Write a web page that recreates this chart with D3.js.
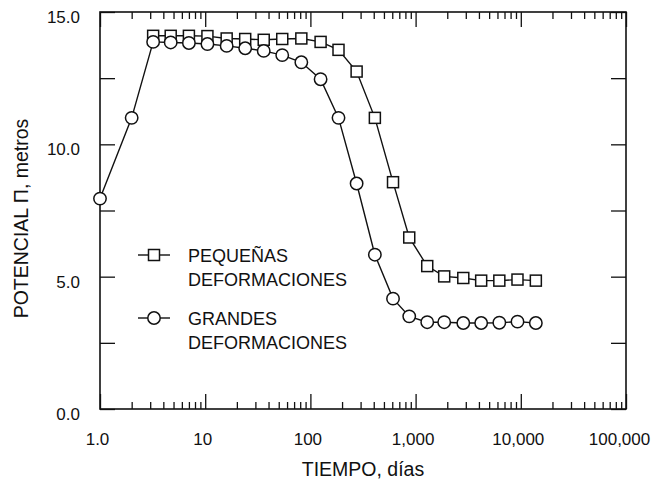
<!DOCTYPE html>
<html>
<head>
<meta charset="utf-8">
<script src="https://cdn.jsdelivr.net/npm/d3@7"></script>
<style>
  body { margin: 0; background: #fff; }
  svg text { font-family: "Liberation Sans", Arial, Helvetica, sans-serif; fill: #111; }
</style>
</head>
<body>
<div id="chart"></div>
<script>

// tiempo (dias) and potencial (metros)
const tiempoGrandes = [1, 2, 3.2, 4.7, 7, 10.5, 16, 24, 36, 54, 82, 125, 185, 275, 410, 610, 870, 1290, 1870, 2840, 4200, 6250, 9300, 13900]
const potGrandes = [7.95, 11.0, 13.87, 13.85, 13.83, 13.79, 13.72, 13.63, 13.53, 13.37, 13.1, 12.46, 11.0, 8.52, 5.83, 4.17, 3.5, 3.28, 3.28, 3.25, 3.25, 3.26, 3.3, 3.25]

const tiempoPequenas = [3.2, 4.7, 7, 10.5, 16, 24, 36, 54, 82, 125, 185, 275, 410, 610, 870, 1290, 1870, 2840, 4200, 6250, 9300, 13900]
const potPequenas = [14.1, 14.1, 14.1, 14.09, 14.0, 13.98, 13.95, 13.98, 14.0, 13.87, 13.57, 12.75, 11.0, 8.57, 6.48, 5.4, 5.01, 4.95, 4.85, 4.85, 4.89, 4.85]

const xMajor = [1, 10, 100, 1000, 10000, 100000]
const xLabels = ["1.0", "10", "100", "1,000", "10,000", "100,000"]
const yTicks = [0, 2.5, 5, 7.5, 10, 12.5, 15]
const yLabels = ["0.0", "", "5.0", "", "10.0", "", "15.0"]

const legendNames = [["PEQUEÑAS", "DEFORMACIONES"], ["GRANDES", "DEFORMACIONES"]]

const W = 654, H = 484
const mLeft = 100, mRight = 626, mTop = 12, mBottom = 409

let svg = d3.select("#chart").append("svg")
    .attr("width", W)
    .attr("height", H)

let x = d3.scaleLog().domain([1, 100000]).range([mLeft, mRight])
let y = d3.scaleLinear().domain([0, 15]).range([mBottom, mTop])

// minor ticks 2..9 of every decade
let xMinor = []
xMajor.slice(0, -1).forEach(d => {
    for (let k = 2; k <= 9; k++) xMinor.push(d * k)
})

function xAxes(g, axisFn) {
    g.append("g")
        .call(axisFn(x).tickValues(xMinor).tickSize(-7).tickFormat(""))
    g.append("g")
        .call(axisFn(x).tickValues(xMajor).tickSize(-15).tickFormat(""))
    g.selectAll(".domain").remove()
    g.selectAll("line").attr("stroke", "#111").attr("stroke-width", 1.3)
}

let gB = svg.append("g").attr("transform", `translate(0,${mBottom})`)
xAxes(gB, d3.axisBottom)
gB.append("g")
    .call(d3.axisBottom(x).tickValues(xMajor).tickSize(0).tickPadding(24)
        .tickFormat((d, i) => xLabels[i]))
    .call(g => g.select(".domain").remove())
    .selectAll("text")
    .attr("font-size", 17)
    .attr("dx", (d, i) => i == xMajor.length - 1 ? -7 : -3)

let gT = svg.append("g").attr("transform", `translate(0,${mTop})`)
xAxes(gT, d3.axisTop)

let gL = svg.append("g").attr("transform", `translate(${mLeft},0)`)
gL.call(d3.axisLeft(y).tickValues(yTicks).tickSize(-15).tickPadding(20)
    .tickFormat((d, i) => yLabels[i]))
gL.select(".domain").remove()
gL.selectAll("line").attr("stroke", "#111").attr("stroke-width", 1.3)
gL.selectAll("text").attr("font-size", 17).attr("dy", "0.62em")

let gR = svg.append("g").attr("transform", `translate(${mRight},0)`)
gR.call(d3.axisRight(y).tickValues(yTicks).tickSize(-15).tickFormat(""))
gR.select(".domain").remove()
gR.selectAll("line").attr("stroke", "#111").attr("stroke-width", 1.3)

// frame
svg.append("rect")
    .attr("x", mLeft)
    .attr("y", mTop)
    .attr("width", mRight - mLeft)
    .attr("height", mBottom - mTop)
    .attr("fill", "none")
    .attr("stroke", "#111")
    .attr("stroke-width", 1.6)

// axis titles
svg.append("text")
    .attr("x", (mLeft + mRight) / 2)
    .attr("y", 476)
    .attr("text-anchor", "middle")
    .attr("font-size", 19.5)
    .text("TIEMPO, días")

svg.append("text")
    .attr("transform", `translate(28,${(mTop + mBottom) / 2 + 8}) rotate(-90)`)
    .attr("text-anchor", "middle")
    .attr("font-size", 19.5)
    .text("POTENCIAL Π, metros")

// series
let line = d3.line().x(d => x(d[0])).y(d => y(d[1]))

let grandes = tiempoGrandes.map((t, i) => [t, potGrandes[i]])
let pequenas = tiempoPequenas.map((t, i) => [t, potPequenas[i]])

svg.append("path")
    .datum(pequenas)
    .attr("d", line)
    .attr("fill", "none")
    .attr("stroke", "#111")
    .attr("stroke-width", 1.4)

svg.append("path")
    .datum(grandes)
    .attr("d", line)
    .attr("fill", "none")
    .attr("stroke", "#111")
    .attr("stroke-width", 1.4)

const sq = 11
svg.selectAll(".sq")
    .data(pequenas)
    .enter()
    .append("rect")
    .attr("x", d => x(d[0]) - sq / 2)
    .attr("y", d => y(d[1]) - sq / 2)
    .attr("width", sq)
    .attr("height", sq)
    .attr("fill", "#fff")
    .attr("stroke", "#111")
    .attr("stroke-width", 1.5)

svg.selectAll(".ci")
    .data(grandes)
    .enter()
    .append("circle")
    .attr("cx", d => x(d[0]))
    .attr("cy", d => y(d[1]))
    .attr("r", 6.2)
    .attr("fill", "#fff")
    .attr("stroke", "#111")
    .attr("stroke-width", 1.5)

// legend
const legendY = [255, 318]
legendNames.forEach((names, i) => {
    let ly = legendY[i]
    svg.append("line")
        .attr("x1", 138).attr("x2", 170)
        .attr("y1", ly).attr("y2", ly)
        .attr("stroke", "#111")
        .attr("stroke-width", 1.4)
    if (i == 0) {
        svg.append("rect")
            .attr("x", 154 - sq / 2).attr("y", ly - sq / 2)
            .attr("width", sq).attr("height", sq)
            .attr("fill", "#fff").attr("stroke", "#111").attr("stroke-width", 1.5)
    } else {
        svg.append("circle")
            .attr("cx", 154).attr("cy", ly).attr("r", 6.2)
            .attr("fill", "#fff").attr("stroke", "#111").attr("stroke-width", 1.5)
    }
    names.forEach((s, j) => {
        svg.append("text")
            .attr("x", 188)
            .attr("y", ly + 7 + j * 24)
            .attr("font-size", 18)
            .text(s)
    })
})

</script>
</body>
</html>
